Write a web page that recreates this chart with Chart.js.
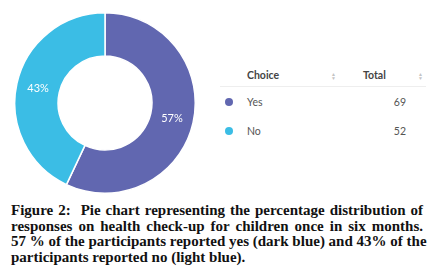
<!DOCTYPE html>
<html>
<head>
<meta charset="utf-8">
<script src="https://cdn.jsdelivr.net/npm/chart.js@4.4.1/dist/chart.umd.min.js"></script>
<style>
  body { margin: 0; width: 446px; height: 278px; background: #fff; position: relative; overflow: hidden; }
  #wrap { position: absolute; left: 14px; top: 12px; width: 182px; height: 182px; }
  table { position: absolute; left: 220px; top: 64px; border-collapse: collapse; font-family: Lato, sans-serif; font-size: 10.5px; color: #555; }
  th { font-weight: bold; color: #444; text-align: left; height: 22px; padding: 0; border-bottom: 1px solid #eee; }
  td { height: 29px; padding: 0; }
  .dot { display: inline-block; width: 8px; height: 8px; border-radius: 50%; }
  .sort { display: inline-block; color: #c4c4c4; font-size: 5px; line-height: 4px; font-weight: normal; vertical-align: middle; }
  #caption { position: absolute; left: 11px; top: 203px; width: 412px; font-family: "Liberation Serif", serif; font-weight: bold; font-size: 15px; line-height: 15.5px; color: #111; }
  #caption div { text-align: justify; text-align-last: justify; white-space: nowrap; }
  #caption div:last-child { text-align-last: left; }
</style>
</head>
<body>
<div id="wrap"><canvas id="chartOne"></canvas></div>
<table id="choices"></table>
<div id="caption">
  <div>Figure 2:&nbsp; Pie chart representing the percentage distribution of</div>
  <div>responses on health check-up for children once in six months.</div>
  <div>57 % of the participants reported yes (dark blue) and 43% of the</div>
  <div>participants reported no (light blue).</div>
</div>
<script>
var labels = ['Yes', 'No']
var totals = [69, 52]
var colors = ['#6167b0', '#3bbde5']

// table on the right
var sortIcon = '<span class="sort">&#9650;<br>&#9660;</span>'
var table = document.getElementById('choices')
var head = document.createElement('tr')
head.innerHTML = '<th style="width:27px"></th><th style="width:84px">Choice</th><th style="width:32px">' + sortIcon + '</th>' +
  '<th style="width:55px">Total</th><th style="width:8px">' + sortIcon + '</th>'
table.appendChild(head)
for (var i = 0; i < labels.length; i++) {
  var row = document.createElement('tr')
  row.innerHTML = '<td style="padding-left:5px"><span class="dot" style="background:' + colors[i] + '"></span></td>' +
    '<td>' + labels[i] + '</td><td></td><td style="text-align:right;padding-right:12px">' + totals[i] + '</td><td></td>'
  table.appendChild(row)
}

const percentLabels = {
  id: 'percentLabels',
  afterDatasetsDraw(chart) {
    var ctx = chart.ctx
    var meta = chart.getDatasetMeta(0)
    var sum = totals.reduce(function (a, b) { return a + b }, 0)
    ctx.save()
    ctx.fillStyle = '#fff'
    ctx.font = '11px Lato'
    ctx.textAlign = 'center'
    ctx.textBaseline = 'middle'
    meta.data.forEach(function (arc, i) {
      var p = arc.tooltipPosition()
      ctx.fillText(Math.round(totals[i] / sum * 100) + '%', p.x, p.y)
    })
    ctx.restore()
  }
}

new Chart(document.getElementById('chartOne'), {
  type: 'doughnut',
  data: {
    labels: labels,
    datasets: [{
      data: totals,
      backgroundColor: colors,
      borderColor: '#fff',
      borderWidth: 1.5
    }]
  },
  options: {
    responsive: true,
    maintainAspectRatio: false,
    animation: false,
    cutout: '52%',
    layout: { padding: 0 },
    plugins: { legend: { display: false }, tooltip: { enabled: false } }
  },
  plugins: [percentLabels]
})
</script>
</body>
</html>
